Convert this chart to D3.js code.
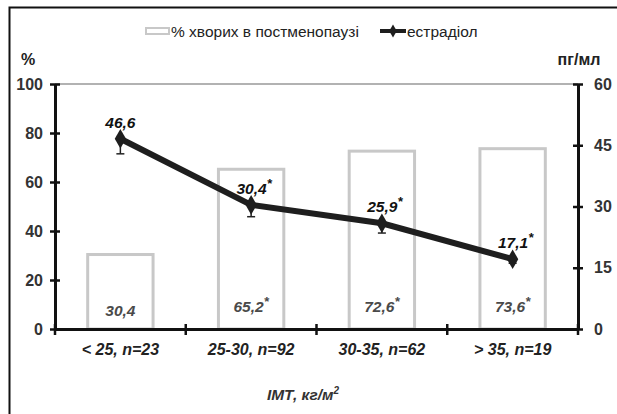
<!DOCTYPE html>
<html>
<head>
<meta charset="utf-8">
<script src="https://cdn.jsdelivr.net/npm/d3@7"></script>
<style>
  body { margin: 0; background: #fff; }
  svg { font-family: "Liberation Sans", Arial, sans-serif; }
</style>
</head>
<body>
<div id="chart"></div>
<script>
'use strict';

// data
const categories = ['< 25, n=23', '25-30, n=92', '30-35, n=62', '> 35, n=19'];
const postmenopause = [30.4, 65.2, 72.6, 73.6];   // % хворих в постменопаузі
const postmenopauseStar = [false, true, true, true];
const estradiol = [46.6, 30.4, 25.9, 17.1];       // пг/мл
const estradiolErr = [3.7, 2.9, 2.4, 1.0];
const estradiolStar = [false, true, true, true];
const leftTicks = [0, 20, 40, 60, 80, 100];
const rightTicks = [0, 15, 30, 45, 60];

const width = 617, height = 414;
const margin = {top: 84, right: 39, bottom: 85, left: 55};
const plotW = width - margin.left - margin.right;
const plotH = height - margin.top - margin.bottom;

const svg = d3.select('#chart').append('svg')
  .attr('width', width)
  .attr('height', height);

// frame (only top and left edges show in the picture)
svg.append('path')
  .attr('d', `M9.5,${height} V7.5 H${width}`)
  .attr('fill', 'none')
  .attr('stroke', '#111')
  .attr('stroke-width', 2);

const plot = svg.append('g')
  .attr('transform', `translate(${margin.left},${margin.top})`);

const x = d3.scaleBand().domain(categories).range([0, plotW]);
const yL = d3.scaleLinear().domain([0, 100]).range([plotH, 0]);
const yR = d3.scaleLinear().domain([0, 60]).range([plotH, 0]);

// top gridline
plot.append('line')
  .attr('x1', 0).attr('x2', plotW)
  .attr('y1', yL(100)).attr('y2', yL(100))
  .attr('stroke', '#999').attr('stroke-width', 1.5);

// bars
const barW = x.bandwidth() * 0.5;
plot.selectAll('.bar')
  .data(postmenopause)
  .enter().append('rect')
    .attr('class', 'bar')
    .attr('x', (d, i) => x(categories[i]) + (x.bandwidth() - barW) / 2)
    .attr('y', (d) => yL(d))
    .attr('width', barW)
    .attr('height', (d) => plotH - yL(d))
    .attr('fill', '#fff')
    .attr('stroke', '#c8c8c8')
    .attr('stroke-width', 3);

// bar labels
const barLabels = plot.selectAll('.bar-label')
  .data(postmenopause)
  .enter().append('text')
    .attr('class', 'bar-label')
    .attr('x', (d, i) => x(categories[i]) + x.bandwidth() / 2)
    .attr('y', (d, i) => i === 0 ? plotH - 13 : plotH - 17)
    .attr('text-anchor', 'middle')
    .attr('font-size', 15.5)
    .attr('font-weight', 'bold')
    .attr('font-style', 'italic')
    .attr('fill', '#4a4a4a');
barLabels.append('tspan').text((d) => String(d).replace('.', ','));
barLabels.append('tspan')
  .attr('dy', -6).attr('font-size', 13)
  .text((d, i) => postmenopauseStar[i] ? '*' : '');

// axes
function styleAxis(g) {
  g.selectAll('path.domain').attr('stroke', '#111').attr('stroke-width', 3);
  g.selectAll('.tick line').attr('stroke', '#111').attr('stroke-width', 2.5);
  g.selectAll('.tick text')
    .attr('font-size', 16)
    .attr('font-weight', 'bold')
    .attr('fill', '#333')
    .attr('font-family', '"Liberation Sans", Arial, sans-serif');
}

const leftAxis = plot.append('g')
  .call(d3.axisLeft(yL).tickValues(leftTicks).tickSize(5).tickSizeOuter(0).tickPadding(7));
leftAxis.selectAll('.tick line').attr('x1', 5);
styleAxis(leftAxis);

const rightAxis = plot.append('g')
  .attr('transform', `translate(${plotW},0)`)
  .call(d3.axisRight(yR).tickValues(rightTicks).tickSize(5).tickSizeOuter(0).tickPadding(11));
rightAxis.selectAll('.tick line').attr('x1', -5);
styleAxis(rightAxis);

const xAxis = plot.append('g')
  .attr('transform', `translate(0,${plotH})`)
  .call(d3.axisBottom(x).tickSize(0).tickPadding(15));
styleAxis(xAxis);
xAxis.selectAll('.tick text').attr('font-style', 'italic').attr('fill', '#222');

// category boundary ticks on x axis
plot.selectAll('.xtick')
  .data(categories.concat(['end']))
  .enter().append('line')
    .attr('class', 'xtick')
    .attr('x1', (d, i) => i * x.bandwidth())
    .attr('x2', (d, i) => i * x.bandwidth())
    .attr('y1', plotH - 5).attr('y2', plotH + 6)
    .attr('stroke', '#111').attr('stroke-width', 2.5);

// estradiol error bars (lower part)
const errs = plot.selectAll('.err')
  .data(estradiol)
  .enter().append('g')
    .attr('class', 'err')
    .attr('stroke', '#222').attr('stroke-width', 1.5);
errs.append('line')
  .attr('x1', (d, i) => x(categories[i]) + x.bandwidth() / 2)
  .attr('x2', (d, i) => x(categories[i]) + x.bandwidth() / 2)
  .attr('y1', (d) => yR(d))
  .attr('y2', (d, i) => yR(d - estradiolErr[i]));
errs.append('line')
  .attr('x1', (d, i) => x(categories[i]) + x.bandwidth() / 2 - 4)
  .attr('x2', (d, i) => x(categories[i]) + x.bandwidth() / 2 + 4)
  .attr('y1', (d, i) => yR(d - estradiolErr[i]))
  .attr('y2', (d, i) => yR(d - estradiolErr[i]));

// estradiol line
const line = d3.line()
  .x((d, i) => x(categories[i]) + x.bandwidth() / 2)
  .y((d) => yR(d));
plot.append('path')
  .datum(estradiol)
  .attr('d', line)
  .attr('fill', 'none')
  .attr('stroke', '#1e1e1e')
  .attr('stroke-width', 6);

plot.selectAll('.marker')
  .data(estradiol)
  .enter().append('path')
    .attr('class', 'marker')
    .attr('d', d3.symbol().type(d3.symbolDiamond).size(110))
    .attr('transform', (d, i) => `translate(${x(categories[i]) + x.bandwidth() / 2},${yR(d)})`)
    .attr('fill', '#1e1e1e');

// estradiol labels
const lineLabels = plot.selectAll('.line-label')
  .data(estradiol)
  .enter().append('text')
    .attr('class', 'line-label')
    .attr('x', (d, i) => x(categories[i]) + x.bandwidth() / 2 + (i === 0 ? 0 : 3))
    .attr('y', (d) => yR(d) - 11)
    .attr('text-anchor', 'middle')
    .attr('font-size', 15.5)
    .attr('font-weight', 'bold')
    .attr('font-style', 'italic')
    .attr('fill', '#111');
lineLabels.append('tspan').text((d) => String(d).replace('.', ','));
lineLabels.append('tspan')
  .attr('dy', -6).attr('font-size', 13)
  .text((d, i) => estradiolStar[i] ? '*' : '');

// axis titles
svg.append('text')
  .attr('x', 28).attr('y', 65)
  .attr('text-anchor', 'middle')
  .attr('font-size', 16).attr('font-weight', 'bold').attr('fill', '#222')
  .text('%');
svg.append('text')
  .attr('x', 579).attr('y', 65)
  .attr('text-anchor', 'middle')
  .attr('font-size', 16).attr('font-weight', 'bold').attr('fill', '#222')
  .text('пг/мл');

const xTitle = svg.append('text')
  .attr('x', 303).attr('y', 400)
  .attr('text-anchor', 'middle')
  .attr('font-size', 15.5).attr('font-weight', 'bold').attr('font-style', 'italic')
  .attr('fill', '#333');
xTitle.append('tspan').text('ІМТ, кг/м');
xTitle.append('tspan').attr('dy', -6).attr('font-size', 10).text('2');

// legend
const legend = svg.append('g').attr('font-size', 15.5).attr('fill', '#222');
legend.append('rect')
  .attr('x', 146).attr('y', 28).attr('width', 23).attr('height', 6)
  .attr('fill', '#fff').attr('stroke', '#c8c8c8').attr('stroke-width', 2);
legend.append('text').attr('x', 171).attr('y', 36.5).text('% хворих в постменопаузі');
legend.append('line')
  .attr('x1', 380).attr('x2', 406).attr('y1', 31).attr('y2', 31)
  .attr('stroke', '#1e1e1e').attr('stroke-width', 4);
legend.append('path')
  .attr('d', d3.symbol().type(d3.symbolDiamond).size(50))
  .attr('transform', 'translate(393,31)')
  .attr('fill', '#1e1e1e');
legend.append('text').attr('x', 407).attr('y', 36.5).text('естрадіол');
</script>
</body>
</html>
